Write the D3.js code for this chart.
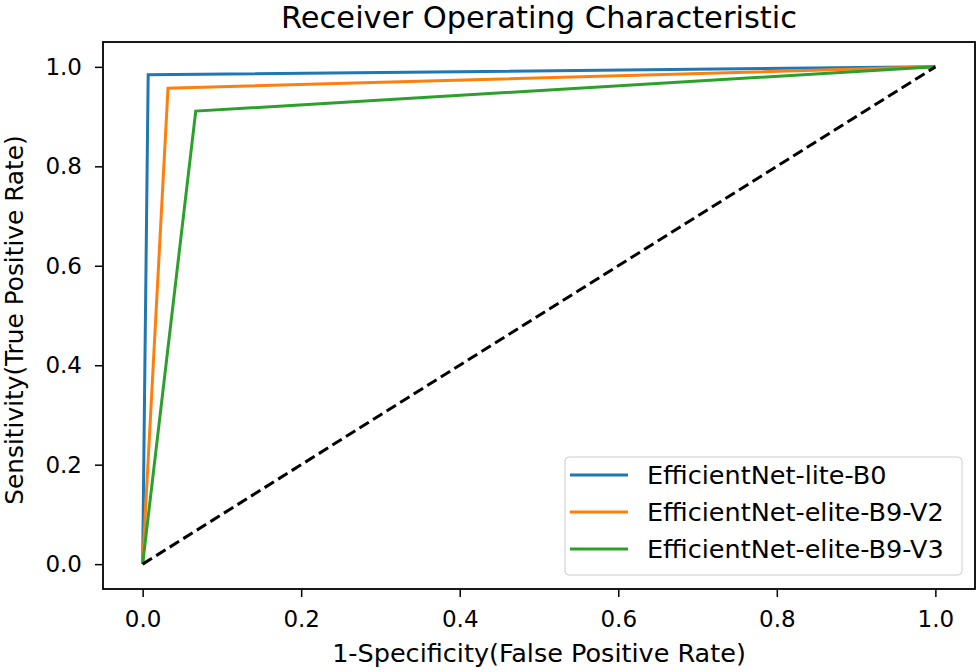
<!DOCTYPE html>
<html>
<head>
<meta charset="utf-8">
<script src="https://cdn.jsdelivr.net/npm/d3@7"></script>
<style>
  body { margin: 0; background: #fff; }
  svg text { font-family: "DejaVu Sans", sans-serif; fill: #000; }
</style>
</head>
<body>
<svg id="chart"></svg>
<script>
// series: [fpr, tpr] points of each roc curve
const seriesNames = ['EfficientNet-lite-B0', 'EfficientNet-elite-B9-V2', 'EfficientNet-elite-B9-V3'];
const seriesColors = ['#1f77b4', '#ff7f0e', '#2ca02c'];
const fprValues = [
  [0, 0.007, 1],
  [0, 0.032, 1],
  [0, 0.067, 1]
];
const tprValues = [
  [0, 0.984, 1],
  [0, 0.957, 1],
  [0, 0.911, 1]
];
const diagonal = [[0, 0], [1, 1]];
const tickValues = [0, 0.2, 0.4, 0.6, 0.8, 1.0];

const width = 980, height = 672;
const margin = { top: 42, right: 5, bottom: 83, left: 103 };
const innerW = width - margin.left - margin.right;
const innerH = height - margin.top - margin.bottom;

const x = d3.scaleLinear().domain([-0.05, 1.05]).range([0, innerW]);
const y = d3.scaleLinear().domain([-0.05, 1.05]).range([innerH, 0]);

const svg = d3.select('#chart')
  .attr('width', width)
  .attr('height', height);

const g = svg.append('g')
  .attr('transform', `translate(${margin.left},${margin.top})`);

const line = d3.line().x((d) => x(d[0])).y((d) => y(d[1]));

seriesNames.forEach((name, i) => {
  const pts = fprValues[i].map((f, j) => [f, tprValues[i][j]]);
  g.append('path')
    .datum(pts)
    .attr('fill', 'none')
    .attr('stroke', seriesColors[i])
    .attr('stroke-width', 3)
    .attr('stroke-linejoin', 'miter')
    .attr('d', line);
});

g.append('path')
  .datum(diagonal)
  .attr('fill', 'none')
  .attr('stroke', '#000')
  .attr('stroke-width', 3)
  .attr('stroke-dasharray', '11,5')
  .attr('d', line);

// axes
const xAxis = g.append('g')
  .attr('transform', `translate(0,${innerH})`)
  .call(d3.axisBottom(x).tickValues(tickValues).tickFormat(d3.format('.1f')).tickSizeOuter(0).tickSize(8).tickPadding(14));
const yAxis = g.append('g')
  .call(d3.axisLeft(y).tickValues(tickValues).tickFormat(d3.format('.1f')).tickSizeOuter(0).tickSize(8).tickPadding(13));
[xAxis, yAxis].forEach((a) => {
  a.select('.domain').remove();
  a.selectAll('.tick line').attr('stroke', '#000').attr('stroke-width', 1.5);
  a.selectAll('.tick text').style('font-family', '"DejaVu Sans", sans-serif').style('font-size', '23px').attr('fill', '#000');
});

// frame
g.append('rect')
  .attr('width', innerW)
  .attr('height', innerH)
  .attr('fill', 'none')
  .attr('stroke', '#000')
  .attr('stroke-width', 1.8);

svg.append('text')
  .attr('x', margin.left + innerW / 2)
  .attr('y', 28)
  .attr('text-anchor', 'middle')
  .style('font-size', '30.5px')
  .text('Receiver Operating Characteristic');

svg.append('text')
  .attr('x', margin.left + innerW / 2)
  .attr('y', 662)
  .attr('text-anchor', 'middle')
  .style('font-size', '25.5px')
  .text('1-Specificity(False Positive Rate)');

svg.append('text')
  .attr('transform', `translate(23,320) rotate(-90)`)
  .attr('text-anchor', 'middle')
  .style('font-size', '24.8px')
  .text('Sensitivity(True Positive Rate)');

// legend
const legend = svg.append('g').attr('transform', 'translate(565,457)');
legend.append('rect')
  .attr('width', 397)
  .attr('height', 118)
  .attr('rx', 4)
  .attr('fill', '#fff')
  .attr('fill-opacity', 0.8)
  .attr('stroke', '#ccc')
  .attr('stroke-width', 1);
seriesNames.forEach((name, i) => {
  const row = legend.append('g').attr('transform', `translate(0,${18 + i * 37})`);
  row.append('line')
    .attr('x1', 5).attr('x2', 63)
    .attr('stroke', seriesColors[i])
    .attr('stroke-width', 3);
  row.append('text')
    .attr('x', 82)
    .attr('dy', '0.35em')
    .style('font-size', '25.5px')
    .text(name);
});
</script>
</body>
</html>
